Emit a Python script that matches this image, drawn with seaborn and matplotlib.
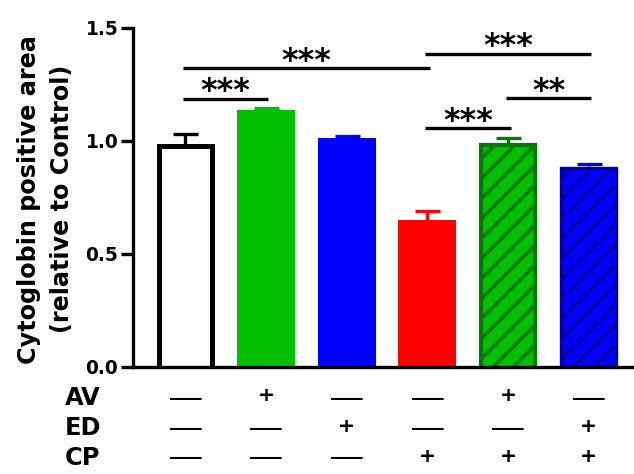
import numpy as np
import pandas as pd
import matplotlib
matplotlib.use("Agg")
import matplotlib.pyplot as plt
import matplotlib.transforms as mtransforms
import seaborn as sns

# ---------------- data ----------------
groups = ['Control', 'AV', 'ED', 'CP', 'AV+CP', 'ED+CP']
means = [0.985, 1.135, 1.01, 0.648, 0.99, 0.887]
sems = [0.045, 0.008, 0.012, 0.041, 0.022, 0.011]

fill_colors = ['#FFFFFF', '#00C000', '#0000FF', '#FF0000', '#00C000', '#0000FF']
edge_colors = ['#000000', '#00C000', '#0000FF', '#FF0000', '#007A00', '#0000A8']
err_colors = ['#000000', '#00C000', '#0000FF', '#FF0000', '#007A00', '#0000E0']
hatches = ['', '', '', '', '//', '//']
edge_widths = [3.0, 0, 0, 0, 2.5, 2.0]

row_names = ['AV', 'ED', 'CP']
row_marks = [['—', '+', '—', '—', '+', '—'],
             ['—', '—', '+', '—', '—', '+'],
             ['—', '—', '—', '+', '+', '+']]

comparisons = [(0, 1), (0, 3), (3, 5), (3, 4), (4, 5)]
comp_heights = [1.185, 1.320, 1.384, 1.055, 1.188]
comp_labels = ['***', '***', '***', '***', '**']

yticks = [0.0, 0.5, 1.0, 1.5]
ytick_labels = ['0.0', '0.5', '1.0', '1.5']

# ---------------- style ----------------
DPI = 120
W, H = 634, 474
sns.set_style('ticks')
plt.rcParams['font.family'] = ['DejaVu Sans']
plt.rcParams['font.weight'] = 'bold'
plt.rcParams['text.color'] = 'black'
plt.rcParams['axes.labelcolor'] = 'black'
plt.rcParams['xtick.color'] = 'black'
plt.rcParams['ytick.color'] = 'black'
plt.rcParams['axes.edgecolor'] = 'black'
plt.rcParams['hatch.linewidth'] = 2.2

fig = plt.figure(figsize=(W / DPI, H / DPI), dpi=DPI)
ax_left, ax_right, ax_top, ax_bottom = 133.3, 634.0, 27.5, 366.7
ax = fig.add_axes([ax_left / W, 1 - ax_bottom / H,
                   (ax_right - ax_left) / W, (ax_bottom - ax_top) / H])

df = pd.DataFrame({'group': groups, 'value': means})
sns.barplot(data=df, x='group', y='value', hue='group', order=groups,
            hue_order=groups, palette=fill_colors, legend=False, width=0.72,
            errorbar=None, saturation=1, ax=ax, zorder=2)

xmin, xmax = -0.645, 5.56
ax.set_xlim(xmin, xmax)
ax.set_ylim(0, 1.5)
px_per_x = (ax_right - ax_left) / (xmax - xmin)
px_per_y = (ax_bottom - ax_top) / 1.5
pt2px = DPI / 72.0

bars = sorted(ax.patches, key=lambda p: p.get_x())
for i, p in enumerate(bars):
    p.set_facecolor(fill_colors[i])
    p.set_edgecolor(edge_colors[i])
    p.set_linewidth(edge_widths[i])
    p.set_hatch(hatches[i])
    p.set_zorder(2)
    if edge_widths[i] > 0:
        # keep the stroke inside the bar outline, bottom stroke hidden below 0
        dx = edge_widths[i] * pt2px / px_per_x
        dy = edge_widths[i] * pt2px / px_per_y
        top = p.get_height()
        p.set_x(p.get_x() + dx / 2)
        p.set_width(p.get_width() - dx)
        p.set_y(-dy)
        p.set_height(top - dy / 2 + dy)

for i in range(len(groups)):
    _, caps, _ = ax.errorbar(i, means[i], yerr=[[0], [sems[i]]], fmt='none',
                             ecolor=err_colors[i], elinewidth=2, capsize=7.5,
                             capthick=2, zorder=1)
    # keep only the upper cap (one-sided error bar)
    for c in caps:
        if np.isclose(c.get_ydata()[0], means[i]):
            c.remove()

# axes styling
sns.despine(ax=ax)
ax.spines['left'].set_linewidth(2)
ax.spines['bottom'].set_linewidth(2)
ax.spines['bottom'].set_zorder(4)
ax.set_yticks(yticks)
ax.set_yticklabels(ytick_labels, fontsize=11.2, fontweight='bold')
ax.tick_params(axis='y', length=7, width=2, pad=2)
ax.set_xticks([])
ax.set_xlabel('')
ax.set_ylabel('Cytoglobin positive area\n(relative to Control)',
              fontsize=14.3, fontweight='bold', linespacing=1.5)
ax.yaxis.set_label_coords(-0.1184, 0.494)

# significance brackets
for (a, b), h, lab in zip(comparisons, comp_heights, comp_labels):
    ax.plot([a - 0.03, b + 0.03], [h, h], color='black', lw=2,
            solid_capstyle='butt', clip_on=False, zorder=3)
    ax.annotate(lab, xy=((a + b) / 2, h), xytext=(0, -0.9),
                textcoords='offset points', ha='center', va='baseline',
                fontsize=19, fontweight='bold', annotation_clip=False)

# treatment table below the axis
trans = mtransforms.blended_transform_factory(ax.transData, fig.transFigure)
label_center = [396, 426.5, 456]
plus_center = [394, 425, 455]
dash_center = [398.5, 429.5, 458]
for r, name in enumerate(row_names):
    fig.text(83 / W, 1 - (label_center[r] + 8.7) / H, name, ha='center',
             va='baseline', fontsize=14.5, fontweight='bold')
    for i, m in enumerate(row_marks[r]):
        if m == '+':
            ax.text(i, 1 - (plus_center[r] + 7) / H, '+', transform=trans,
                    ha='center', va='baseline', fontsize=12.2,
                    fontweight='bold', clip_on=False)
        else:
            ax.text(i, 1 - (dash_center[r] + 8) / H, '—', transform=trans,
                    ha='center', va='baseline', fontsize=19,
                    fontweight='normal', family=['Liberation Sans'],
                    clip_on=False)

fig.savefig('out.png', dpi=DPI)
